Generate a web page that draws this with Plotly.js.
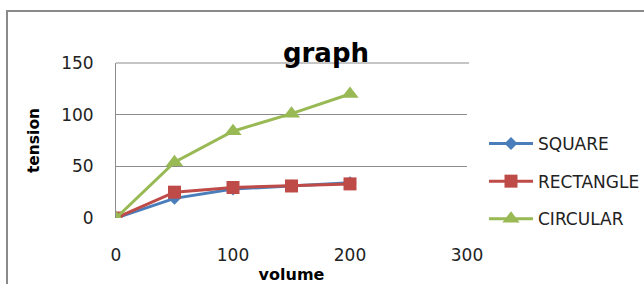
<!DOCTYPE html>
<html>
<head>
<meta charset="utf-8">
<script src="https://cdn.plot.ly/plotly-3.0.1.min.js"></script>
<style>
  html, body { margin: 0; padding: 0; background: #fff; overflow: hidden; }
  #frame { position: absolute; left: 6px; top: 10px; width: 700px; height: 320px; border: 2px solid #8a8a8a; box-sizing: border-box; }
  #chart { position: absolute; left: 0; top: 0; width: 644px; height: 284px; }
</style>
</head>
<body>
<div id="frame"></div>
<div id="chart"></div>
<script>
const volume = [0, 50, 100, 150, 200];
const squareVals = [0, 19, 28, 31, 34];
const rectangleVals = [0, 25, 29.5, 31, 33];
const circularVals = [0, 54, 84, 101, 120];
const seriesNames = ['SQUARE', 'RECTANGLE', 'CIRCULAR'];
const xTicks = [0, 100, 200, 300];
const yTicks = [0, 50, 100, 150];

const font = 'DejaVu Sans, sans-serif';

const traces = [
  { x: volume, y: squareVals, name: seriesNames[0], legendgroup: 'a', mode: 'lines+markers',
    line: { color: '#4A7EBB', width: 3 }, marker: { symbol: 'diamond', size: 10, color: '#4A7EBB' } },
  { x: volume, y: rectangleVals, name: seriesNames[1], legendgroup: 'b', mode: 'lines+markers',
    line: { color: '#BE4B48', width: 3 }, marker: { symbol: 'square', size: 13, color: '#BE4B48' } },
  { x: volume, y: circularVals, name: seriesNames[2], legendgroup: 'c', mode: 'lines+markers',
    line: { color: '#98B954', width: 3 }, marker: { symbol: 'triangle-up', size: 15, color: '#98B954' } }
];

const layout = {
  width: 644, height: 284,
  margin: { l: 116, r: 177, t: 63, b: 66, pad: 0 },
  paper_bgcolor: 'rgba(0,0,0,0)', plot_bgcolor: 'rgba(0,0,0,0)',
  font: { family: font, size: 17, color: '#222' },
  title: { text: 'graph', font: { family: font, size: 26, color: '#000', weight: 'bold' },
           xref: 'container', yref: 'container', x: 326 / 644, xanchor: 'center', y: 1 - 62 / 284, yanchor: 'bottom' },
  xaxis: {
    range: [0, 300], tickvals: xTicks, ticktext: xTicks.map(String), showgrid: false, zeroline: false,
    showline: false, ticks: '', ticklabelstandoff: 25, fixedrange: true,
    title: { text: 'volume', font: { family: font, size: 16, color: '#000', weight: 'bold' }, standoff: 8 }
  },
  yaxis: {
    range: [0, 150], tickvals: yTicks, ticktext: yTicks.map(String), showgrid: true, gridcolor: '#8c8c8c', gridwidth: 1,
    zeroline: false, showline: true, linecolor: '#8c8c8c', linewidth: 1, ticks: '', ticklabelstandoff: 18, fixedrange: true,
    title: { text: 'tension', font: { family: font, size: 15.5, color: '#000', weight: 'bold' }, standoff: 17 }
  },
  showlegend: true,
  legend: { x: 484 / 644, xref: 'container', y: 1 - 126 / 284, yref: 'container', xanchor: 'left', yanchor: 'top',
            font: { family: font, size: 17, color: '#222' }, tracegroupgap: 12.5, itemwidth: 44,
            bgcolor: 'rgba(0,0,0,0)' },
  shapes: [
    { type: 'line', xref: 'paper', yref: 'paper', x0: 0, x1: 1.006, y0: 1, y1: 1, line: { color: '#8c8c8c', width: 1 } }
  ]
};

Plotly.newPlot('chart', traces, layout, { displayModeBar: false, staticPlot: true });
</script>
</body>
</html>
